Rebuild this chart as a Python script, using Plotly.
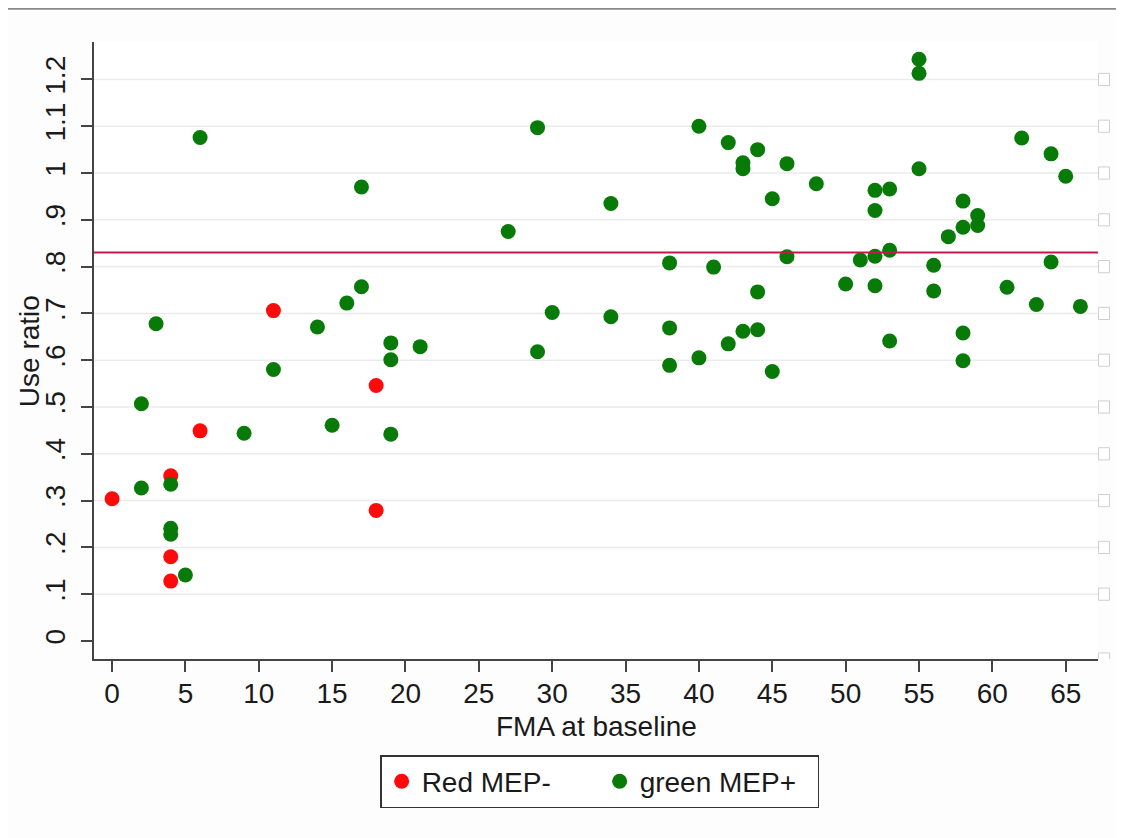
import plotly.graph_objects as go

# ---- data ----
red_x = [0, 4, 4, 4, 6, 11, 18, 18]
red_y = [0.304, 0.353, 0.180, 0.128, 0.449, 0.706, 0.546, 0.279]

green_x = [2, 2, 3, 4, 4, 4, 5, 6, 9, 11, 14, 15, 16, 17, 17, 19, 19, 19, 21,
           27, 29, 29, 30, 34, 34, 38, 38, 38, 40, 40, 41, 42, 42, 43, 43, 43,
           44, 44, 44, 45, 45, 46, 46, 48, 50, 51, 52, 52, 52, 52, 53, 53, 53,
           55, 55, 55, 56, 56, 57, 58, 58, 58, 58, 59, 59, 61, 62, 63, 64, 64,
           65, 66]
green_y = [0.507, 0.327, 0.678, 0.335, 0.241, 0.228, 0.141, 1.076, 0.444, 0.580,
           0.671, 0.461, 0.722, 0.757, 0.970, 0.637, 0.601, 0.442, 0.629,
           0.875, 1.097, 0.618, 0.702, 0.935, 0.693, 0.808, 0.669, 0.589,
           1.100, 0.605, 0.799, 1.065, 0.635, 1.022, 1.009, 0.662,
           1.050, 0.746, 0.665, 0.945, 0.576, 1.020, 0.821, 0.977, 0.763, 0.814,
           0.963, 0.920, 0.822, 0.759, 0.966, 0.835, 0.641,
           1.243, 1.213, 1.009, 0.803, 0.748, 0.864, 0.940, 0.884, 0.658, 0.599,
           0.909, 0.888, 0.756, 1.075, 0.719, 1.041, 0.810, 0.993, 0.715]

ref_line = 0.83

x_ticks = list(range(0, 70, 5))
y_tickvals = [0, 0.1, 0.2, 0.3, 0.4, 0.5, 0.6, 0.7, 0.8, 0.9, 1.0, 1.1, 1.2]
y_ticktext = ["0", ".1", ".2", ".3", ".4", ".5", ".6", ".7", ".8", ".9", "1", "1.1", "1.2"]

x_title = "FMA at baseline"
y_title = "Use ratio"

x_range = [-1.23, 67.2]
y_range = [-0.0385, 1.28]

FONT = "Liberation Sans, Arial, sans-serif"
TXT = "#1a1a1a"
AX = "#444444"
FS = 28

fig = go.Figure()
fig.add_trace(go.Scatter(x=red_x, y=red_y, mode="markers", name="Red MEP-",
                         marker=dict(color="#ff0a0a", size=15, line=dict(width=0))))
fig.add_trace(go.Scatter(x=green_x, y=green_y, mode="markers", name="green MEP+",
                         marker=dict(color="#077a07", size=15, line=dict(width=0))))

shapes = []
# gridlines (not at zero)
for v in y_tickvals[1:]:
    shapes.append(dict(type="line", xref="paper", yref="y", x0=0, x1=1, y0=v, y1=v,
                       line=dict(color="#ebebeb", width=1.5), layer="below"))
# reference line
shapes.append(dict(type="line", xref="paper", yref="y", x0=0, x1=1, y0=ref_line, y1=ref_line,
                   line=dict(color="#c8164a", width=2)))
# little right-side boxes
for v in y_tickvals[1:] + [y_range[0]]:
    shapes.append(dict(type="rect", xref="paper", yref="y", x0=1.0005, x1=1.0115,
                       y0=v - 0.013, y1=v + 0.013,
                       line=dict(color="#cfcfcf", width=1), fillcolor="white"))
# top frame line
shapes.append(dict(type="line", xref="paper", yref="paper", x0=-0.2, x1=1.2,
                   y0=1.054, y1=1.054, line=dict(color="#8a8a8a", width=2)))

annotations = [
    dict(text=x_title, xref="paper", yref="paper", x=0.5, y=-0.109,
         xanchor="center", yanchor="middle", showarrow=False,
         font=dict(family=FONT, size=FS, color=TXT)),
    dict(text=y_title, xref="paper", yref="paper", x=-0.0647, y=0.499,
         xanchor="center", yanchor="middle", showarrow=False, textangle=-90,
         font=dict(family=FONT, size=FS, color=TXT)),
]

fig.update_layout(
    width=1116, height=830,
    margin=dict(l=86, r=26, t=34, b=179),
    paper_bgcolor="#fdfdfd", plot_bgcolor="white",
    font=dict(family=FONT, size=FS, color=TXT),
    showlegend=True,
    legend=dict(orientation="h", x=0.285, xanchor="left", y=-0.1556, yanchor="top",
                bordercolor="#333333", borderwidth=1.5, bgcolor="white",
                entrywidth=173, entrywidthmode="pixels",
                font=dict(family=FONT, size=FS, color=TXT)),
    xaxis=dict(range=x_range, tickvals=x_ticks, showgrid=False, zeroline=False,
               showline=True, linecolor=AX, linewidth=2, ticks="outside",
               ticklen=11, tickwidth=2, tickcolor=AX, automargin=False,
               tickfont=dict(size=FS), ticklabelstandoff=-3),
    yaxis=dict(range=y_range, tickvals=y_tickvals, ticktext=y_ticktext,
               showgrid=False, zeroline=False, tickangle=-90,
               showline=True, linecolor=AX, linewidth=2, ticks="outside",
               ticklen=11, tickwidth=2, tickcolor=AX, automargin=False,
               tickfont=dict(size=FS), ticklabelstandoff=5),
    shapes=shapes,
    annotations=annotations,
)

fig.write_html("out.html")
